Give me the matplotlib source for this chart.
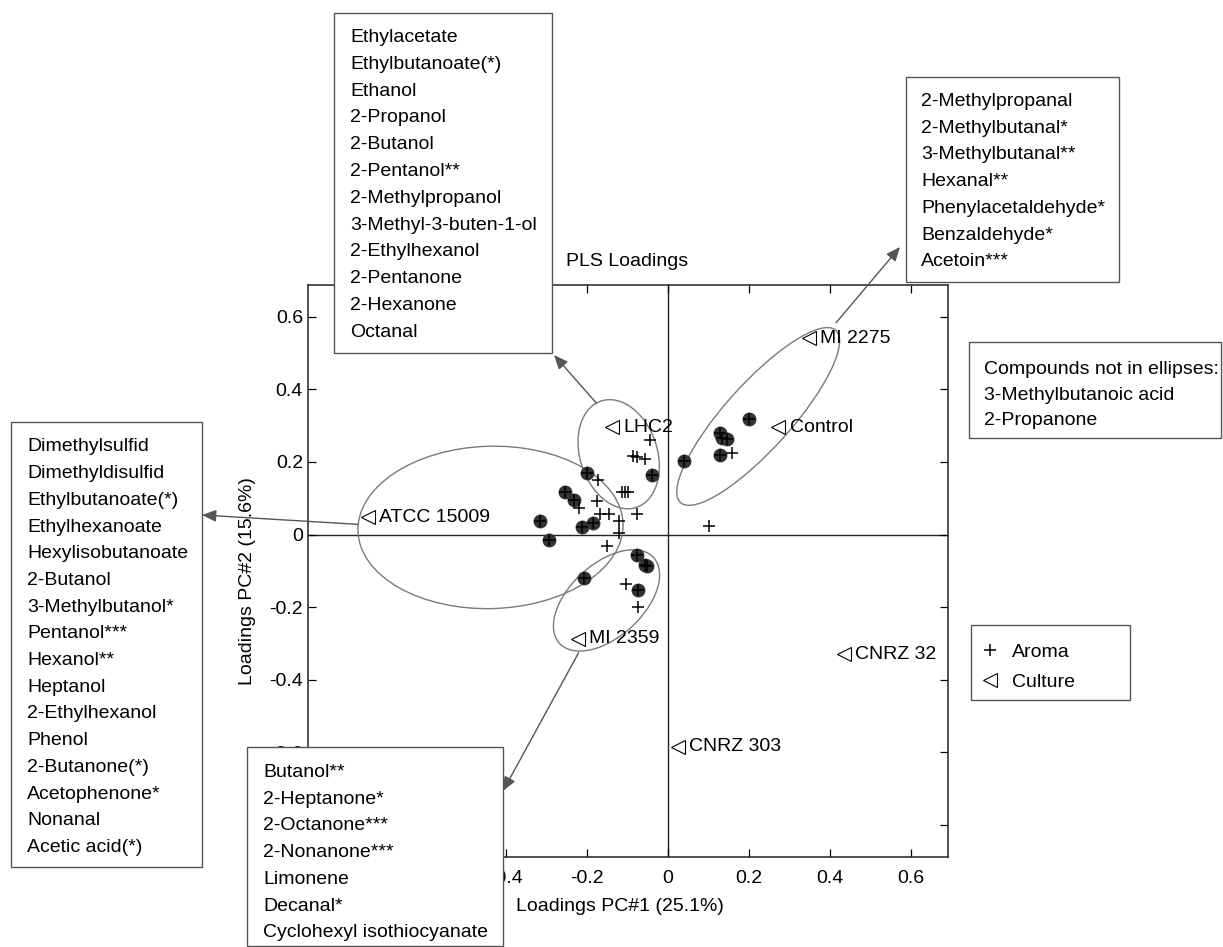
import matplotlib
matplotlib.use('Agg')
import matplotlib.pyplot as plt
from matplotlib.patches import Ellipse, Rectangle
from matplotlib.lines import Line2D
from matplotlib.ticker import FixedFormatter

plt.rcParams['font.family'] = ['Liberation Sans', 'DejaVu Sans']

# aroma compounds that are significant (drawn as filled circles with a plus)
sig_x = [0.200, 0.130, 0.133, 0.147, 0.130, 0.041, -0.040, -0.198, -0.254, -0.232,
         -0.316, -0.294, -0.212, -0.185, -0.076, -0.056, -0.051, -0.207, -0.073]
sig_y = [0.319, 0.279, 0.265, 0.262, 0.219, 0.203, 0.163, 0.169, 0.116, 0.096,
         0.037, -0.016, 0.021, 0.033, -0.056, -0.084, -0.088, -0.121, -0.153]

# other aroma compounds (plus only)
aroma_x = [-0.043, -0.085, -0.076, -0.056, -0.172, -0.113, -0.105, -0.097, -0.175, -0.218,
           -0.167, -0.145, -0.119, -0.076, -0.120, -0.149, 0.102, 0.158, -0.102, -0.073]
aroma_y = [0.260, 0.215, 0.213, 0.207, 0.149, 0.116, 0.118, 0.116, 0.093, 0.074,
           0.056, 0.056, 0.037, 0.056, 0.003, -0.033, 0.023, 0.225, -0.135, -0.200]

# cultures
culture_names = ['MI 2275', 'Control', 'LHC2', 'ATCC 15009', 'MI 2359', 'CNRZ 32', 'CNRZ 303']
culture_x = [0.349, 0.273, -0.137, -0.740, -0.222, 0.434, 0.025]
culture_y = [0.540, 0.296, 0.296, 0.047, -0.287, -0.330, -0.585]

# ellipses round the groups (centre, width, height, angle)
ell_cx = [0.223, -0.121, -0.437, -0.151]
ell_cy = [0.325, 0.221, 0.0195, -0.1815]
ell_w = [0.61, 0.306, 0.654, 0.332]
ell_h = [0.17, 0.192, 0.447, 0.19]
ell_ang = [51.6, 104, 2, 48.6]

# ticks; the labels covered by the text boxes are left empty
xticks = [-0.8, -0.6, -0.4, -0.2, 0, 0.2, 0.4, 0.6]
xticklabels = ['', '', '-0.4', '-0.2', '0', '0.2', '0.4', '0.6']
yticks = [-0.8, -0.6, -0.4, -0.2, 0, 0.2, 0.4, 0.6]
yticklabels = ['', '-0.6', '-0.4', '-0.2', '0', '0.2', '0.4', '0.6']

box_top_center = ['Ethylacetate', 'Ethylbutanoate(*)', 'Ethanol', '2-Propanol', '2-Butanol',
                  '2-Pentanol**', '2-Methylpropanol', '3-Methyl-3-buten-1-ol', '2-Ethylhexanol',
                  '2-Pentanone', '2-Hexanone', 'Octanal']
box_top_right = ['2-Methylpropanal', '2-Methylbutanal*', '3-Methylbutanal**', 'Hexanal**',
                 'Phenylacetaldehyde*', 'Benzaldehyde*', 'Acetoin***']
box_left = ['Dimethylsulfid', 'Dimethyldisulfid', 'Ethylbutanoate(*)', 'Ethylhexanoate',
            'Hexylisobutanoate', '2-Butanol', '3-Methylbutanol*', 'Pentanol***', 'Hexanol**',
            'Heptanol', '2-Ethylhexanol', 'Phenol', '2-Butanone(*)', 'Acetophenone*',
            'Nonanal', 'Acetic acid(*)']
box_bottom = ['Butanol**', '2-Heptanone*', '2-Octanone***', '2-Nonanone***', 'Limonene',
              'Decanal*', 'Cyclohexyl isothiocyanate']
box_not_in = ['Compounds not in ellipses:', '3-Methylbutanoic acid', '2-Propanone']

W, H = 1223, 947


def fx(px):
    return px / W


def fy(py):
    return 1 - py / H


fig = plt.figure(figsize=(W / 100, H / 100), dpi=100)
ax = fig.add_axes([fx(308), fy(857), 640 / W, 572 / H])

ax.axhline(0, color='#222222', lw=1, zorder=1)
ax.axvline(0, color='#222222', lw=1, zorder=1)

for cx, cy, w, h, a in zip(ell_cx, ell_cy, ell_w, ell_h, ell_ang):
    ax.add_patch(Ellipse((cx, cy), w, h, angle=a, fill=False, edgecolor='#7a7a7a', lw=1, zorder=2))

ax.plot(sig_x, sig_y, 'o', ms=9, mfc='#333333', mec='#333333', zorder=3)
ax.plot(sig_x + aroma_x, sig_y + aroma_y, '+', ms=9, mew=1.1, color='black', zorder=4)

ax.plot(culture_x, culture_y, '<', ms=10, mfc='none', mec='black', mew=0.8, zorder=4)
for name, x, y in zip(culture_names, culture_x, culture_y):
    ax.annotate(name, (x, y), xytext=(8, 0), textcoords='offset points',
                va='center', ha='left', fontsize=14)

# arrows from ellipses to the text boxes
arrows = [((-0.176, 0.362), (554, 355)),
          ((0.415, 0.583), (900, 247)),
          ((-0.764, 0.028), (202, 515)),
          ((-0.220, -0.326), (503, 791))]
for start, head in arrows:
    ax.annotate('', xy=(fx(head[0]), fy(head[1])), xycoords='figure fraction',
                xytext=start, textcoords='data', annotation_clip=False,
                arrowprops=dict(arrowstyle='-|>,head_length=0.85,head_width=0.36',
                                mutation_scale=10, color='#555555', lw=1,
                                shrinkA=0, shrinkB=0))

ax.set_xlim(-0.887, 0.691)
ax.set_ylim(-0.888, 0.687)
ax.set_xticks(xticks)
ax.set_yticks(yticks)
ax.xaxis.set_major_formatter(FixedFormatter(xticklabels))
ax.yaxis.set_major_formatter(FixedFormatter(yticklabels))
ax.tick_params(direction='in', length=5.5, width=0.9, top=True, right=True, labelsize=14)
ax.tick_params(axis='x', pad=9)
ax.tick_params(axis='y', pad=3.6)
for s in ax.spines.values():
    s.set_linewidth(1.1)
    s.set_color('#222222')

ax.set_xlabel('Loadings PC#1 (25.1%)', fontsize=14, va='center')
ax.xaxis.set_label_coords(0.4875, -0.087)
ax.set_ylabel('Loadings PC#2 (15.6%)', fontsize=14, va='center')
ax.yaxis.set_label_coords(-0.094, 0.482)
ax.text(0.499, (857 - 262) / 572, 'PLS Loadings', transform=ax.transAxes,
        ha='center', va='center', fontsize=14)


def text_box(x0, y0, x1, y1, lines, tx, ty0, dy):
    fig.add_artist(Rectangle((fx(x0), fy(y1)), fx(x1) - fx(x0), fy(y0) - fy(y1),
                             transform=fig.transFigure, facecolor='white',
                             edgecolor='#555555', lw=1, zorder=5))
    for i, s in enumerate(lines):
        fig.text(fx(tx), fy(ty0 + i * dy + 7), s, fontsize=14, va='baseline',
                 ha='left', zorder=6)


text_box(334, 13, 552, 353, box_top_center, 350, 35, 26.8)
text_box(906, 77, 1119, 282, box_top_right, 921, 99, 26.7)
text_box(11, 422, 202, 867, box_left, 27, 444.4, 26.7)
text_box(247, 747, 503, 946, box_bottom, 263, 770, 26.7)
text_box(969, 342, 1221, 438, box_not_in, 984, 367, 25.5)

# legend
fig.add_artist(Rectangle((fx(971), fy(700)), fx(1130) - fx(971), fy(625) - fy(700),
                         transform=fig.transFigure, facecolor='white',
                         edgecolor='#555555', lw=1, zorder=5))
fig.add_artist(Line2D([fx(990)], [fy(650)], marker='+', ms=9, mew=1.1, color='black',
                      transform=fig.transFigure, zorder=6))
fig.add_artist(Line2D([fx(990)], [fy(680)], marker='<', ms=10, mfc='none', mec='black',
                      mew=0.8, transform=fig.transFigure, zorder=6))
fig.text(fx(1012), fy(657), 'Aroma', fontsize=14, va='baseline', zorder=6)
fig.text(fx(1012), fy(687), 'Culture', fontsize=14, va='baseline', zorder=6)

fig.savefig('out.png', dpi=100)
